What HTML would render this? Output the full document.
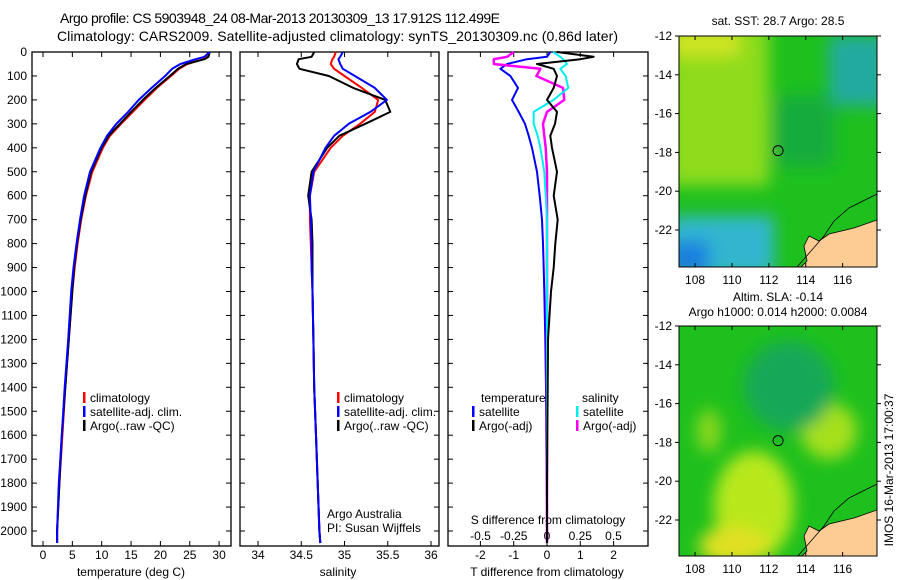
<!DOCTYPE html>
<html><head><meta charset="utf-8">
<style>
body{margin:0;background:#fff;}
svg{display:block;font-family:"Liberation Sans",sans-serif;font-size:12px;}
text{fill:#000;}
</style></head>
<body>
<svg id="fig" width="900" height="580" viewBox="0 0 900 580">
<defs><filter id="blur" x="-20%" y="-20%" width="140%" height="140%"><feGaussianBlur stdDeviation="8"/></filter>
<clipPath id="clip2"><rect x="679" y="326" width="198" height="230"/></clipPath>
<clipPath id="clip1"><rect x="679" y="36" width="198" height="231"/></clipPath></defs>
<text x="60" y="23" font-size="14" textLength="440">Argo profile: CS 5903948_24 08-Mar-2013 20130309_13 17.912S 112.499E</text>
<text x="57" y="41" font-size="14" textLength="561">Climatology: CARS2009. Satellite-adjusted climatology: synTS_20130309.nc (0.86d later)</text>
<g id="p1"></g>
<g id="p2"></g>
<g id="p3"></g>
<g id="m1"></g>
<g id="m2"></g>
<text transform="translate(893,470) rotate(-90)" text-anchor="middle" font-size="12">IMOS 16-Mar-2013 17:00:37</text>
</svg>
<script>
// ---- data ----
const depthTicks=[0,100,200,300,400,500,600,700,800,900,1000,1100,1200,1300,1400,1500,1600,1700,1800,1900,2000];
const tempTicks=[0,5,10,15,20,25,30];
const salTicks=[34,34.5,35,35.5,36];
const tdiffTicks=[-2,-1,0,1,2];
const sdiffTicks=[-0.5,-0.25,0,0.25,0.5];
const sdiffLabels=["-0.5","-0.25","0","0.25","0.5"];
const depths=[0,20,30,50,70,100,150,200,250,300,350,400,500,600,700,800,900,1000,1200,1400,1600,1800,2000,2050];
const tempArgo=[28.4,28.2,27.5,24.4,23.0,21.6,19.2,17.0,15.0,13.1,11.2,10.0,8.2,7.2,6.4,5.8,5.3,5.0,4.4,3.8,3.2,2.8,2.4,2.4];
const tempClim=[28.3,28.1,27.3,24.6,23.2,21.8,19.4,17.3,15.3,13.3,11.4,10.2,8.4,7.3,6.5,5.9,5.4,5.0,4.4,3.8,3.3,2.8,2.4,2.4];
const tempSat=[28.4,27.5,26.0,23.4,22.0,20.8,18.5,16.3,14.5,12.5,10.9,9.8,8.0,7.0,6.3,5.7,5.2,4.8,4.3,3.7,3.2,2.7,2.4,2.4];
const salArgo=[34.65,34.62,34.47,34.45,34.48,34.82,35.10,35.47,35.53,35.24,34.94,34.80,34.62,34.58,34.62,34.63,34.63,34.63,34.64,34.65,34.67,34.69,34.71,34.72];
const salClim=[34.90,34.88,34.86,34.84,34.88,35.00,35.20,35.39,35.35,35.18,34.98,34.84,34.65,34.60,34.60,34.61,34.62,34.63,34.64,34.65,34.67,34.69,34.71,34.72];
const salSat=[34.98,34.95,34.93,34.95,34.98,35.12,35.35,35.49,35.30,35.05,34.88,34.78,34.64,34.60,34.61,34.62,34.62,34.63,34.64,34.65,34.67,34.69,34.71,34.72];
const tdiffSat=[0.1,0.0,-0.6,-1.2,-1.4,-1.1,-0.87,-1.05,-0.85,-0.66,-0.55,-0.45,-0.3,-0.22,-0.15,-0.12,-0.1,-0.08,-0.05,-0.03,-0.02,-0.01,0,0];
const tdiffArgo=[0.3,1.4,1.0,-0.3,0.2,0.3,0.2,0.0,0.3,0.24,0.1,0.15,0.3,0.2,0.32,0.25,0.2,0.12,0.03,0.02,0.01,0.0,0.0,0.0];
const sdiffSat=[0.045,0.1,0.12,0.15,0.1,0.14,0.16,0.05,-0.1,-0.1,-0.07,-0.05,-0.02,-0.01,0,0,0,0,0,0,0,0,0,0];
const sdiffArgo=[-0.25,-0.3,-0.4,-0.4,-0.05,-0.08,0.12,0.13,0.0,-0.03,-0.02,-0.01,0.0,0.0,0,0,0,0,0,0,0,0,0,0];
// ---- helpers ----
const NS="http://www.w3.org/2000/svg";
function mk(tag,at,parent){const e=document.createElementNS(NS,tag);for(const k in at)e.setAttribute(k,at[k]);parent.appendChild(e);return e;}
const Y0=52,YB=546;
function yD(d){return Y0+0.2395*d;}
function frame(g,x0,x1){
 const r=mk('rect',{x:x0,y:Y0,width:x1-x0,height:YB-Y0,fill:'none',stroke:'#000','stroke-width':1.3},g);
 
 
 depthTicks.forEach(d=>{mk('line',{x1:x0,x2:x0+5,y1:yD(d),y2:yD(d),stroke:'#000'},g);mk('line',{x1:x1,x2:x1-5,y1:yD(d),y2:yD(d),stroke:'#000'},g);});
}
function xticks(g,ticks,labels,fx,ylab){
 ticks.forEach((t,i)=>{const x=fx(t);mk('line',{x1:x,x2:x,y1:YB,y2:YB-5,stroke:'#000'},g);mk('line',{x1:x,x2:x,y1:Y0,y2:Y0+5,stroke:'#000'},g);
 const tx=mk('text',{x:x,y:ylab,'text-anchor':'middle'},g);tx.textContent=labels[i];
 
 });
}
function line(g,vals,fx,col,w,name){
 const pts=vals.map((v,i)=>fx(v).toFixed(1)+','+yD(depths[i]).toFixed(1)).join(' ');
 const p=mk('polyline',{points:pts,fill:'none',stroke:col,'stroke-width':w,'stroke-linejoin':'round'},g);
 
 
}
function txt(g,x,y,s,name,anchor){const t=mk('text',{x:x,y:y,'text-anchor':anchor||'start'},g);t.textContent=s;
 
 return t;}
function leg(g,x,y,col,s,name){mk('rect',{x:x,y:y-10,width:2.5,height:11,fill:col},g);txt(g,x+7,y,s,name);}
// ---- panel 1 ----
const p1=document.getElementById('p1');
const fT=t=>43+5.87*t;
frame(p1,32,231);
depthTicks.forEach(d=>{txt(p1,27,yD(d)+4,String(d),'y-tick-label','end');});
xticks(p1,tempTicks,tempTicks.map(String),fT,559);
line(p1,tempClim,fT,'#f00',2,'temp-climatology-line');
line(p1,tempArgo,fT,'#000',2,'temp-argo-line');
line(p1,tempSat,fT,'#00f',2,'temp-satellite-line');
leg(p1,83,402,'#f00','climatology','legend-climatology');
leg(p1,83,416,'#00f','satellite-adj. clim.','legend-satellite');
leg(p1,83,430,'#000','Argo(..raw -QC)','legend-argo');
txt(p1,131,576,'temperature (deg C)','x-axis-title','middle');
// ---- panel 2 ----
const p2=document.getElementById('p2');
const fS=s=>258+86.5*(s-34);
frame(p2,240,439);
xticks(p2,salTicks,salTicks.map(String),fS,559);
line(p2,salClim,fS,'#f00',2,'sal-climatology-line');
line(p2,salArgo,fS,'#000',2,'sal-argo-line');
line(p2,salSat,fS,'#00f',2,'sal-satellite-line');
leg(p2,337,402,'#f00','climatology','legend-climatology');
leg(p2,337,416,'#00f','satellite-adj. clim.','legend-satellite');
leg(p2,337,430,'#000','Argo(..raw -QC)','legend-argo');
txt(p2,327,518,'Argo Australia','credit-line1');
txt(p2,327,532,'PI: Susan Wijffels','credit-line2');
txt(p2,338,576,'salinity','x-axis-title','middle');
// ---- panel 3 ----
const p3=document.getElementById('p3');
const fTd=v=>547+33.3*v, fSd=v=>547+133*v;
frame(p3,448,648);
xticks(p3,tdiffTicks,tdiffTicks.map(String),fTd,559);
sdiffTicks.forEach((v,i)=>txt(p3,fSd(v),540,sdiffLabels[i],'s-tick-label','middle'));
line(p3,tdiffSat,fTd,'#00f',2,'tdiff-satellite-line');
line(p3,sdiffArgo,fSd,'#f0f',2.5,'sdiff-argo-line');
line(p3,sdiffSat,fSd,'#0ee',2,'sdiff-satellite-line');
line(p3,tdiffArgo,fTd,'#000',2,'tdiff-argo-line');
txt(p3,481,402,'temperature','legend-temperature-heading');
leg(p3,472,416,'#00f','satellite','legend-t-satellite');
leg(p3,472,430,'#000','Argo(-adj)','legend-t-argo');
txt(p3,582,402,'salinity','legend-salinity-heading');
leg(p3,576,416,'#0ee','satellite','legend-s-satellite');
leg(p3,576,430,'#f0f','Argo(-adj)','legend-s-argo');
txt(p3,548,524,'S difference from climatology','s-axis-title','middle');
txt(p3,547,576,'T difference from climatology','t-axis-title','middle');
// ---- maps ----
const lonTicks=[108,110,112,114,116];
const latTicks=[-12,-14,-16,-18,-20,-22];
function map(g,x0,y0,x1,y1,kind){
 const fx=l=>x0+(l-107.13)*18.45, fy=la=>y0+(-12-la)*19.4;
 const cg=mk('g',{'clip-path':'url(#clip'+kind+')'},g);
 mk('rect',{x:x0,y:y0,width:x1-x0,height:y1-y0,fill:'#1ec01e'},cg);
 const bg=mk('g',{filter:'url(#blur)'},cg);
 if(kind==1){
  mk('rect',{x:x0-10,y:y0-10,width:100,height:160,fill:'#8edc1c'},bg);
  mk('rect',{x:x0-10,y:y0-10,width:70,height:30,fill:'#d0e420'},bg);
  mk('rect',{x:x0+150,y:y0,width:58,height:70,fill:'#22aaa0'},bg);
  mk('rect',{x:x0+95,y:y0+60,width:60,height:70,fill:'#16ac3c'},bg);
  mk('rect',{x:x0-10,y:y0+180,width:105,height:60,fill:'#33b6d0'},bg);
  mk('rect',{x:x0-10,y:y0+205,width:40,height:35,fill:'#1e80e0'},bg);
 } else {
  mk('ellipse',{cx:x0+75,cy:y0+180,rx:40,ry:55,fill:'#b8e81e'},bg);
  mk('ellipse',{cx:x0+55,cy:y0+220,rx:35,ry:20,fill:'#e0e020'},bg);
  mk('ellipse',{cx:x0+150,cy:y0+105,rx:28,ry:28,fill:'#a6e01e'},bg);
  mk('ellipse',{cx:x0+110,cy:y0+60,rx:45,ry:45,fill:'#12a858'},bg);
  mk('ellipse',{cx:x0+30,cy:y0+105,rx:12,ry:22,fill:'#8cd81e'},bg);
 }
 const land=mk('polygon',{points:[[x0+198,y0+184],[x0+175,y0+192],[x0+150,y0+198],[x0+140,y0+205],[x0+130,y0+200],[x0+125,y0+210],[x0+128,y0+225],[x0+122,y0+231],[x0+198,y0+231]].map(p=>p.join(',')).join(' '),fill:'#fccc94',stroke:'#000','stroke-width':0.8},cg);
 
 
 mk('polyline',{points:`${x0+198},${y0+158} ${x0+170},${y0+172} ${x0+155},${y0+185} ${x0+145},${y0+200} ${x0+132},${y0+215} ${x0+118},${y0+231}`,fill:'none',stroke:'#000','stroke-width':0.8},cg);
 const c=mk('circle',{cx:fx(112.5),cy:fy(-17.91),r:5,fill:'none',stroke:'#000','stroke-width':1},g);
 
 
 mk('rect',{x:x0,y:y0,width:x1-x0,height:y1-y0,fill:'none',stroke:'#000','stroke-width':1},g);
 lonTicks.forEach(l=>{const x=fx(l);mk('line',{x1:x,x2:x,y1:y1,y2:y1-4,stroke:'#000'},g);mk('line',{x1:x,x2:x,y1:y0,y2:y0+4,stroke:'#000'},g);
  txt(g,x,y1+17,String(l),'lon-tick-label','middle');});
 latTicks.forEach(la=>{const y=fy(la);mk('line',{x1:x0,x2:x0-4,y1:y,y2:y,stroke:'#000'},g);mk('line',{x1:x1,x2:x1+4,y1:y,y2:y,stroke:'#000'},g);
  txt(g,x0-7,y+4,String(la),'lat-tick-label','end');});
}
const m1=document.getElementById('m1'),m2=document.getElementById('m2');
map(m1,679,36,877,267,1);
map(m2,679,326,877,556,2);
txt(m1,778,25,'sat. SST: 28.7 Argo: 28.5','sst-map-title','middle');
txt(m2,778,301,'Altim. SLA: -0.14','sla-map-title','middle');
txt(m2,778,316,'Argo h1000: 0.014 h2000: 0.0084','sla-map-subtitle','middle');
</script>
</body></html>
